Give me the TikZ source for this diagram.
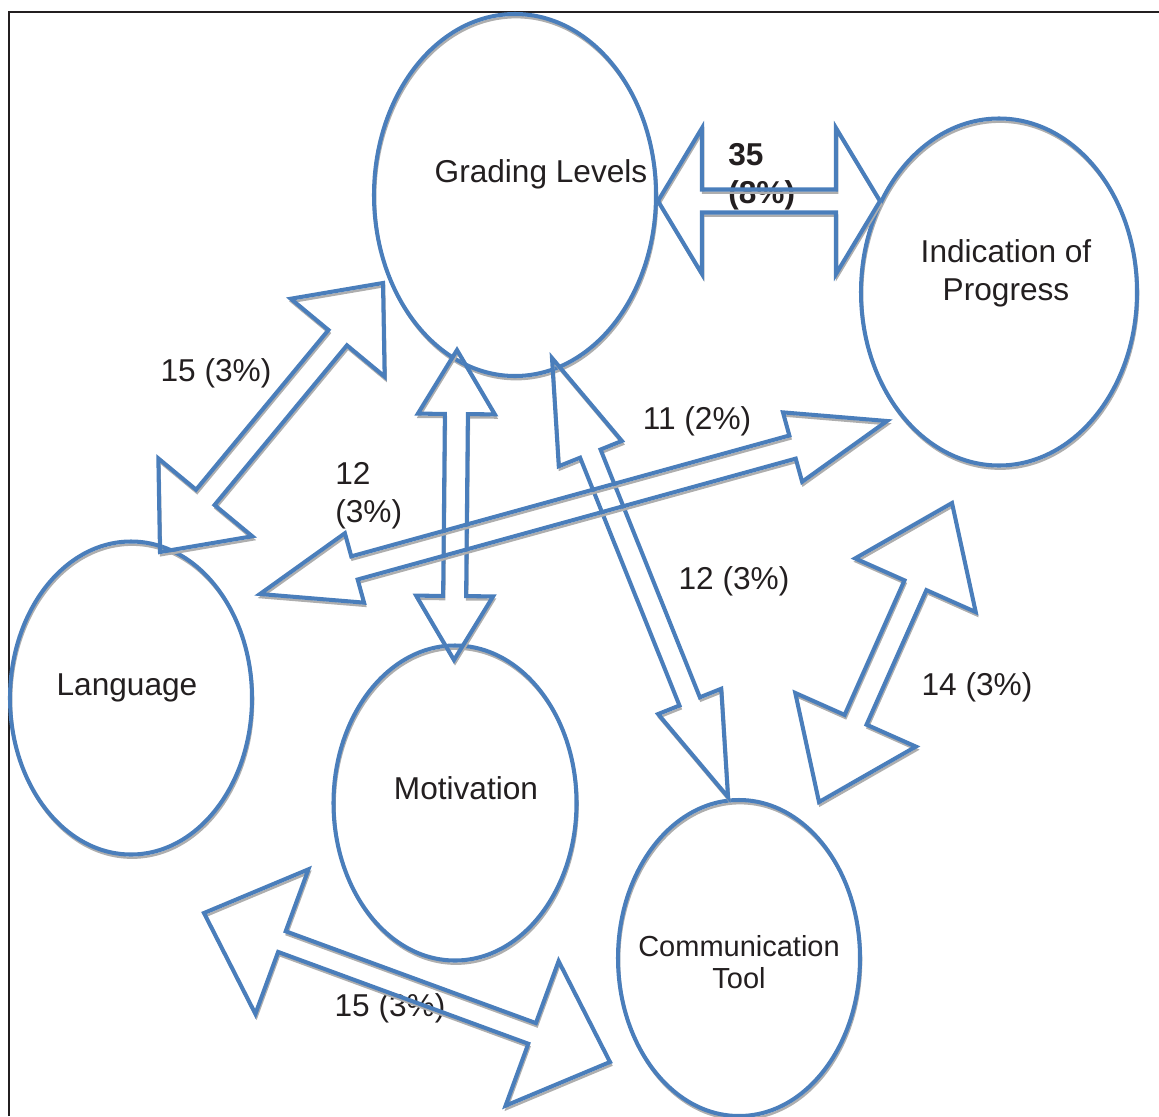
\documentclass[tikz,border=0pt]{standalone}
\usepackage{fontspec}
\setmainfont{Liberation Sans}
\usepackage{tikz}
\usetikzlibrary{calc,shapes.geometric}
\definecolor{shape}{HTML}{4A7EBB}
\definecolor{ink}{HTML}{231F20}
\definecolor{shade}{HTML}{AEAEAE}
\def\px{0.02cm}
\tikzset{
  shd/.style={preaction={draw=shade, line width=1.4pt, transform canvas={xshift=0.6pt, yshift=-1.8pt}}},
  ell/.style={ellipse, draw=shape, line width=2.3pt, inner sep=0pt, shd},
  blk/.style={draw=shape, line width=2.3pt, line join=miter, shd},
  lab/.style={text=ink, font=\fontsize{18}{21.6}\selectfont, inner sep=0pt},
  frame/.style={draw=ink, line width=1.1pt},
}
% double block arrow: tip, tip, head length, head half width, shaft half width (px)
\newcommand{\dblarrow}[5]{%
  \draw[blk] (#1)
    -- ($(#1)!#3*\px!(#2)!#4*\px!90:(#2)$)
    -- ($(#1)!#3*\px!(#2)!#5*\px!90:(#2)$)
    -- ($(#2)!#3*\px!(#1)!#5*\px!-90:(#1)$)
    -- ($(#2)!#3*\px!(#1)!#4*\px!-90:(#1)$)
    -- (#2)
    -- ($(#2)!#3*\px!(#1)!#4*\px!90:(#1)$)
    -- ($(#2)!#3*\px!(#1)!#5*\px!90:(#1)$)
    -- ($(#1)!#3*\px!(#2)!#5*\px!-90:(#2)$)
    -- ($(#1)!#3*\px!(#2)!#4*\px!-90:(#2)$)
    -- cycle;}

\begin{document}
\begin{tikzpicture}[x=\px, y=-\px]
  \useasboundingbox (0,0) rectangle (1159,1116);
  \draw[frame] (9,1116) |- (1159,12);

  % ellipses
  \node[ell, minimum width=282*\px, minimum height=362*\px] (gl) at (515,195) {};
  \node[ell, minimum width=276*\px, minimum height=347*\px] (ip) at (999,292) {};
  \node[ell, minimum width=242*\px, minimum height=313*\px] (la) at (131,698) {};
  \node[ell, minimum width=243*\px, minimum height=315*\px] (mo) at (455,803) {};
  \node[ell, minimum width=242*\px, minimum height=316*\px] (ct) at (739,958) {};

  \node[lab] (gl-t) at (541,174) {Grading Levels};
  \node[lab, align=center] (ip-t) at (1006,273) {Indication of\\Progress};
  \node[lab] (la-t) at (127,688) {Language};
  \node[lab] (mo-t) at (466,788) {Motivation};
  \node[lab, font=\fontsize{16.5}{18.3}\selectfont, align=center] (ct-t) at (739,962) {Communication\\Tool};

  % counts
  \node[lab, font=\fontsize{18}{21.6}\selectfont\bfseries, align=left, anchor=west] (n1) at (728,177) {35\\(8\%)};
  \node[lab] (n2) at (216,373) {15 (3\%)};
  \node[lab, align=left, anchor=west] (n3) at (335,496) {12\\(3\%)};
  \node[lab] (n4) at (697,421) {11 (2\%)};
  \node[lab] (n5) at (734,581) {12 (3\%)};
  \node[lab] (n6) at (977,687) {14 (3\%)};
  \node[lab] (n7) at (390,1008) {15 (3\%)};

  % arrow tips
  \coordinate (gl-e) at (658,201);  \coordinate (ip-w) at (880,201);
  \coordinate (la-n) at (160,552);  \coordinate (gl-sw) at (383,283);
  \coordinate (mo-n) at (454,660);  \coordinate (gl-s) at (457,350);
  \coordinate (gl-se) at (552,358); \coordinate (ct-n) at (728,797);
  \coordinate (la-ne) at (260,594); \coordinate (ip-sw) at (887,421);
  \coordinate (ct-ne) at (819,802); \coordinate (ip-s) at (952,503);
  \coordinate (bl-w) at (204,913);  \coordinate (bl-e) at (610,1062);

  \dblarrow{gl-e}{ip-w}{44}{73}{11.5}
  \dblarrow{la-n}{gl-sw}{71}{61}{12}
  \dblarrow{mo-n}{gl-s}{64}{38.5}{11.5}
  \dblarrow{gl-se}{ct-n}{103}{34}{11}
  \dblarrow{la-ne}{ip-sw}{98}{36}{12}
  \dblarrow{ct-ne}{ip-s}{90}{66}{12}
  \dblarrow{bl-w}{bl-e}{83}{77}{11}
\end{tikzpicture}
\end{document}
